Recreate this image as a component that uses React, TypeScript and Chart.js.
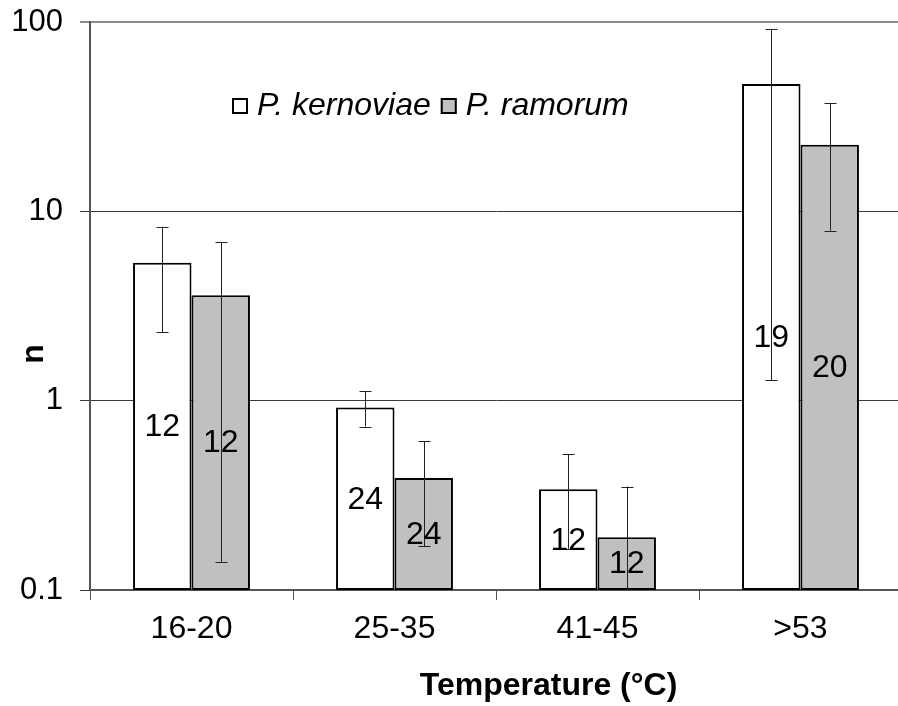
import React, { useEffect, useRef } from 'react';
import { Chart, registerables } from 'chart.js';

Chart.register(...registerables);

const categories = ['16-20', '25-35', '41-45', '>53'];
const seriesNames = ['P. kernoviae', 'P. ramorum'];

const kernoviaeMean = [5.35, 0.92, 0.34, 47];
const kernoviaeLow = [2.3, 0.73, 0.165, 1.28];
const kernoviaeHigh = [8.3, 1.12, 0.52, 92];
const kernoviaeN = [12, 24, 12, 19];

const ramorumMean = [3.6, 0.39, 0.19, 22.5];
const ramorumLow = [0.141, 0.17, 0.09, 7.9];
const ramorumHigh = [6.9, 0.61, 0.352, 37.4];
const ramorumN = [12, 24, 12, 20];

const yTicks = [0.1, 1, 10, 100];
const yTickLabels = ['0.1', '1', '10', '100'];

const xTitle = 'Temperature (°C)';
const yTitle = 'n';

const FONT = '"Liberation Sans", Arial, sans-serif';

const errLow = [kernoviaeLow, ramorumLow];
const errHigh = [kernoviaeHigh, ramorumHigh];
const counts = [kernoviaeN, ramorumN];

const overlayPlugin = {
  id: 'overlay',
  afterDatasetsDraw(chart: any) {
    const ctx = chart.ctx as CanvasRenderingContext2D;
    const area = chart.chartArea;
    const yScale = chart.scales.y;

    // error bars
    ctx.save();
    ctx.beginPath();
    ctx.rect(area.left, area.top, area.right - area.left, area.bottom - area.top);
    ctx.clip();
    ctx.strokeStyle = '#222';
    ctx.lineWidth = 1;
    chart.data.datasets.forEach((_: any, di: number) => {
      const meta = chart.getDatasetMeta(di);
      meta.data.forEach((bar: any, j: number) => {
        const x = Math.round(bar.x) + 0.5;
        const yl = yScale.getPixelForValue(errLow[di][j]);
        const yh = yScale.getPixelForValue(errHigh[di][j]);
        ctx.beginPath();
        ctx.moveTo(x, yh);
        ctx.lineTo(x, yl);
        ctx.moveTo(x - 6, Math.round(yh) + 0.5);
        ctx.lineTo(x + 6, Math.round(yh) + 0.5);
        ctx.moveTo(x - 6, Math.round(yl) + 0.5);
        ctx.lineTo(x + 6, Math.round(yl) + 0.5);
        ctx.stroke();
      });
    });
    ctx.restore();

    // count labels
    ctx.save();
    ctx.fillStyle = '#000';
    ctx.font = `32px ${FONT}`;
    ctx.textAlign = 'center';
    ctx.textBaseline = 'middle';
    chart.data.datasets.forEach((_: any, di: number) => {
      const meta = chart.getDatasetMeta(di);
      meta.data.forEach((bar: any, j: number) => {
        ctx.fillText(String(counts[di][j]), bar.x, (bar.y + bar.base) / 2 + 1);
      });
    });
    ctx.restore();
  },
  afterDraw(chart: any) {
    const ctx = chart.ctx as CanvasRenderingContext2D;
    ctx.save();
    // legend inside plot
    let x = 232;
    const cy = 106;
    ctx.font = `italic 32px ${FONT}`;
    ctx.textBaseline = 'middle';
    ctx.textAlign = 'left';
    chart.data.datasets.forEach((ds: any) => {
      ctx.fillStyle = ds.backgroundColor;
      ctx.fillRect(x, cy - 8, 16, 16);
      ctx.strokeStyle = '#000';
      ctx.lineWidth = 2;
      ctx.strokeRect(x + 1, cy - 7, 14, 14);
      ctx.fillStyle = '#000';
      const tx = x + 25;
      ctx.fillText(ds.label, tx, cy);
      x = tx + ctx.measureText(ds.label).width + 10;
    });

    // x title
    ctx.font = `bold 32px ${FONT}`;
    ctx.textAlign = 'center';
    ctx.textBaseline = 'alphabetic';
    ctx.fillText(xTitle, 548.5, 695);

    // y title
    ctx.translate(42.5, 354);
    ctx.rotate(-Math.PI / 2);
    ctx.fillText(yTitle, 0, 0);
    ctx.restore();
  },
};

export default function App() {
  const ref = useRef<HTMLCanvasElement>(null);

  useEffect(() => {
    const canvas = ref.current!;
    Chart.defaults.font.family = FONT;
    const chart = new Chart(canvas, {
      type: 'bar',
      data: {
        labels: categories,
        datasets: [
          {
            label: seriesNames[0],
            data: kernoviaeMean,
            backgroundColor: '#ffffff',
            borderColor: '#000000',
            borderWidth: 2,
            borderSkipped: false,
          },
          {
            label: seriesNames[1],
            data: ramorumMean,
            backgroundColor: '#c0c0c0',
            borderColor: '#000000',
            borderWidth: 2,
            borderSkipped: false,
          },
        ],
      },
      options: {
        responsive: false,
        animation: false,
        events: [],
        layout: { padding: { top: 22, right: 2, left: 0, bottom: 0 } },
        datasets: { bar: { categoryPercentage: 0.576, barPercentage: 1 } },
        plugins: {
          legend: { display: false },
          tooltip: { enabled: false },
          title: { display: false },
        },
        scales: {
          x: {
            type: 'category',
            grid: {
              offset: true,
              drawOnChartArea: false,
              drawTicks: true,
              tickLength: 10,
              color: '#555555',
              lineWidth: 1,
            },
            border: { display: true, color: '#555555', width: 2 },
            ticks: { color: '#000', font: { size: 32, family: FONT }, padding: 10, maxRotation: 0 },
            afterFit: (s: any) => {
              s.height = 116;
              s.paddingLeft = 0;
              s.paddingRight = 0;
            },
          },
          y: {
            type: 'logarithmic',
            min: 0.1,
            max: 100,
            afterBuildTicks: (s: any) => {
              s.ticks = yTicks.map((v) => ({ value: v }));
            },
            ticks: {
              color: '#000',
              font: { size: 31, family: FONT },
              padding: 17,
              callback: (_v: any, i: number) => yTickLabels[i],
            },
            grid: {
              drawTicks: true,
              tickLength: 10,
              color: (c: any) => (c.tick && c.tick.value === 100 ? '#8c8c8c' : '#3a3a3a'),
              lineWidth: (c: any) => (c.tick && c.tick.value === 100 ? 2 : 1),
            },
            border: { display: true, color: '#555555', width: 2 },
            afterFit: (s: any) => {
              s.width = 90;
              s.paddingTop = 0;
              s.paddingBottom = 0;
            },
          },
        },
      },
      plugins: [overlayPlugin],
    });
    return () => chart.destroy();
  }, []);

  return (
    <div
      style={{
        position: 'absolute',
        left: 0,
        top: 0,
        width: 898,
        height: 706,
        overflow: 'hidden',
        background: '#fff',
      }}
    >
      <canvas ref={ref} width={904} height={706} style={{ display: 'block', width: 904, height: 706 }} />
    </div>
  );
}
